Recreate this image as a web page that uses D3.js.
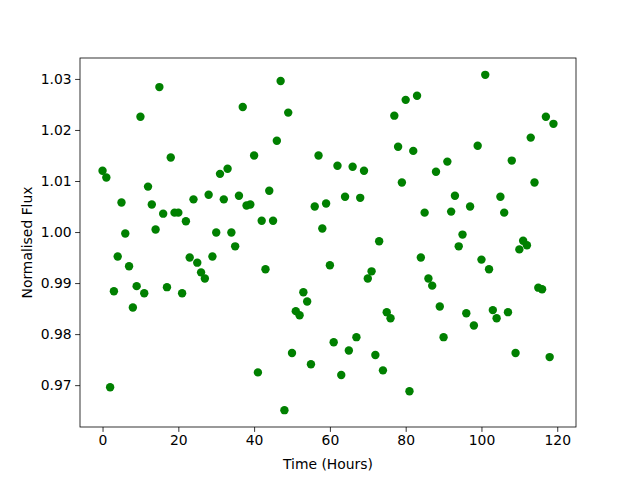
<!DOCTYPE html>
<html>
<head>
<meta charset="utf-8">
<script src="https://cdn.jsdelivr.net/npm/d3@7"></script>
<style>
  body { margin: 0; background: #fff; }
  svg text { font-family: "DejaVu Sans", sans-serif; }
</style>
</head>
<body>
<div id="grafico"></div>
<script>
// hours of observation
const hours = d3.range(0, 120)

// normalised flux, one per hour
const flux = [
  1.0120, 1.0107, 0.9696, 0.9884, 0.9952, 1.0058, 0.9997, 0.9933, 0.9852, 0.9894,
  1.0226, 0.9880, 1.0089, 1.0054, 1.0005, 1.0284, 1.0036, 0.9892, 1.0146, 1.0038,
  1.0038, 0.9880, 1.0021, 0.9950, 1.0064, 0.9940, 0.9921, 0.9909, 1.0073, 0.9952,
  0.9999, 1.0114, 1.0064, 1.0124, 0.9999, 0.9972, 1.0071, 1.0245, 1.0052, 1.0054,
  1.0150, 0.9725, 1.0022, 0.9927, 1.0081, 1.0022, 1.0179, 1.0296, 0.9651, 1.0234,
  0.9763, 0.9845, 0.9837, 0.9882, 0.9864, 0.9741, 1.0050, 1.0150, 1.0007, 1.0056,
  0.9935, 0.9784, 1.0130, 0.9720, 1.0069, 0.9768, 1.0128, 0.9794, 1.0067, 1.0120,
  0.9909, 0.9923, 0.9759, 0.9982, 0.9729, 0.9843, 0.9831, 1.0228, 1.0167, 1.0097,
  1.0259, 0.9688, 1.0159, 1.0267, 0.9950, 1.0038, 0.9909, 0.9895, 1.0118, 0.9854,
  0.9794, 1.0138, 1.0040, 1.0071, 0.9972, 0.9995, 0.9841, 1.0050, 0.9817, 1.0169,
  0.9946, 1.0308, 0.9927, 0.9847, 0.9831, 1.0069, 1.0038, 0.9843, 1.0140, 0.9763,
  0.9966, 0.9983, 0.9974, 1.0185, 1.0097, 0.9891, 0.9888, 1.0226, 0.9755, 1.0212
]

const xTicks = [0, 20, 40, 60, 80, 100, 120]
const yTicks = [0.97, 0.98, 0.99, 1.00, 1.01, 1.02, 1.03]

// matplotlib default axes box for 640x480
const margin = {top: 58, right: 64, bottom: 53, left: 80},
  width = 496,
  height = 369

const svg = d3.select("#grafico")
  .append("svg")
    .attr("width", 640)
    .attr("height", 480)
  .append("g")
    .attr("transform", `translate(${margin.left},${margin.top})`)

const x = d3.scaleLinear()
  .domain([-5.95, 124.95])
  .range([0, width])

const y = d3.scaleLinear()
  .domain([0.9618, 1.0341])
  .range([height, 0])

// points
svg.selectAll("circle")
  .data(hours)
  .join("circle")
    .attr("cx", d => x(d))
    .attr("cy", (d, i) => y(flux[i]))
    .attr("r", 4.2)
    .attr("fill", "#008000")

// axes
const xAxis = svg.append("g")
  .attr("transform", `translate(0,${height})`)
  .call(d3.axisBottom(x).tickValues(xTicks).tickSize(4.9).tickPadding(3.5).tickSizeOuter(0))

const yAxis = svg.append("g")
  .call(d3.axisLeft(y).tickValues(yTicks).tickFormat(d3.format(".2f")).tickSize(4.9).tickPadding(3.5).tickSizeOuter(0))

for (const ax of [xAxis, yAxis]) {
  ax.select(".domain").remove()
  ax.selectAll("text").attr("font-size", "13.9px").attr("fill", "#000").attr("font-family", "DejaVu Sans")
  ax.selectAll("line").attr("stroke", "#000").attr("stroke-width", 0.8)
}

// frame
svg.append("rect")
  .attr("width", width)
  .attr("height", height)
  .attr("fill", "none")
  .attr("stroke", "#000")
  .attr("stroke-width", 0.8)

// labels
svg.append("text")
  .attr("x", width / 2)
  .attr("y", height + 42)
  .attr("text-anchor", "middle")
  .attr("font-size", "13.9px")
  .text("Time (Hours)")

svg.append("text")
  .attr("x", -height / 2)
  .attr("y", -48)
  .attr("text-anchor", "middle")
  .attr("transform", "rotate(-90)")
  .attr("font-size", "13.9px")
  .text("Normalised Flux")
</script>
</body>
</html>
